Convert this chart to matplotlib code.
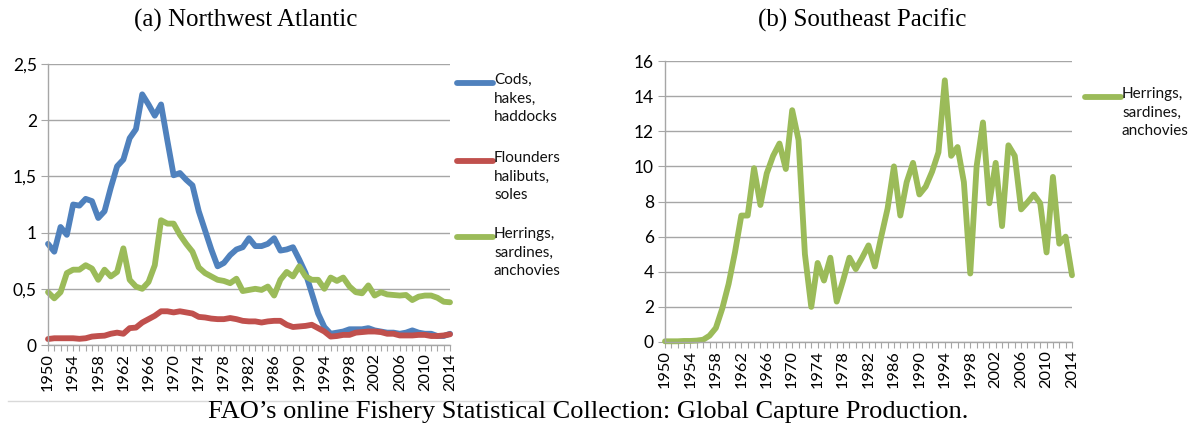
"""Capture production by species group: NW Atlantic vs SE Pacific (FAO)."""

import matplotlib
matplotlib.use("Agg")
import matplotlib.pyplot as plt
from matplotlib.lines import Line2D
from matplotlib.ticker import FuncFormatter, MultipleLocator

# Data (million tonnes)
years = list(range(1950, 2015))

nwa_cods = [
    0.90, 0.83, 1.05, 0.98, 1.25, 1.24, 1.30, 1.28, 1.13, 1.19,
    1.40, 1.59, 1.65, 1.84, 1.92, 2.23, 2.14, 2.04, 2.14, 1.82,
    1.51, 1.53, 1.47, 1.42, 1.19, 1.02, 0.85, 0.70, 0.73, 0.80,
    0.85, 0.87, 0.95, 0.88, 0.88, 0.90, 0.95, 0.84, 0.85, 0.87,
    0.76, 0.64, 0.46, 0.28, 0.16, 0.10, 0.11, 0.12, 0.14, 0.14,
    0.14, 0.15, 0.13, 0.12, 0.11, 0.11, 0.10, 0.11, 0.13, 0.11,
    0.10, 0.10, 0.08, 0.08, 0.10,
]
nwa_flounders = [
    0.053, 0.06, 0.06, 0.06, 0.06, 0.055, 0.06, 0.075, 0.08, 0.083,
    0.10, 0.11, 0.10, 0.15, 0.155, 0.20, 0.23, 0.26, 0.30, 0.30,
    0.29, 0.30, 0.29, 0.28, 0.25, 0.245, 0.235, 0.23, 0.23, 0.24,
    0.23, 0.215, 0.21, 0.21, 0.20, 0.21, 0.215, 0.215, 0.18, 0.16,
    0.165, 0.17, 0.18, 0.15, 0.12, 0.075, 0.08, 0.09, 0.09, 0.11,
    0.115, 0.12, 0.12, 0.115, 0.10, 0.10, 0.085, 0.085, 0.085, 0.09,
    0.09, 0.08, 0.08, 0.085, 0.095,
]
nwa_herrings = [
    0.47, 0.415, 0.47, 0.64, 0.67, 0.67, 0.71, 0.68, 0.58, 0.67,
    0.61, 0.65, 0.86, 0.58, 0.52, 0.50, 0.56, 0.71, 1.11, 1.08,
    1.08, 0.98, 0.90, 0.83, 0.69, 0.64, 0.61, 0.58, 0.57, 0.55,
    0.59, 0.48, 0.49, 0.50, 0.49, 0.52, 0.44, 0.58, 0.65, 0.61,
    0.70, 0.61, 0.58, 0.58, 0.50, 0.60, 0.57, 0.60, 0.52, 0.47,
    0.46, 0.53, 0.44, 0.47, 0.45, 0.445, 0.44, 0.445, 0.40, 0.43,
    0.44, 0.44, 0.42, 0.385, 0.38,
]
sep_herrings = [
    0.04, 0.04, 0.04, 0.06, 0.06, 0.08, 0.13, 0.36, 0.8, 1.9,
    3.3, 5.1, 7.2, 7.2, 9.9, 7.8, 9.6, 10.6, 11.3, 9.85,
    13.2, 11.5, 5.0, 2.0, 4.5, 3.5, 4.8, 2.3, 3.5, 4.8,
    4.15, 4.8, 5.5, 4.3, 6.0, 7.6, 10.0, 7.2, 9.1, 10.2,
    8.4, 8.85, 9.7, 10.8, 14.9, 10.6, 11.1, 9.1, 3.9, 10.0,
    12.5, 7.9, 10.2, 6.6, 11.2, 10.6, 7.55, 7.95, 8.4, 7.9,
    5.1, 9.4, 5.6, 6.0, 3.8,
]

nwa_labels = ["Cods,\nhakes,\nhaddocks", "Flounders\nhalibuts,\nsoles",
              "Herrings,\nsardines,\nanchovies"]
sep_labels = ["Herrings,\nsardines,\nanchovies"]

BLUE, RED, GREEN = "#4F81BD", "#C0504D", "#9BBB59"
GRID = "#A6A6A6"
W, H = 1195, 428
LW = 4.2

plt.rcParams["font.family"] = ["Lato", "DejaVu Sans"]

fig = plt.figure(figsize=(W / 100, H / 100), dpi=100)


def px_axes(left, top, right, bottom):
    return fig.add_axes([left / W, 1 - bottom / H, (right - left) / W, (bottom - top) / H])


def style_axis(ax, ymax, ystep, comma):
    ax.set_xlim(1950, 2014)
    ax.set_ylim(0, ymax)
    ax.yaxis.set_major_locator(MultipleLocator(ystep))
    if comma:
        ax.yaxis.set_major_formatter(
            FuncFormatter(lambda v, p: f"{v:g}".replace(".", ",")))
    ax.set_xticks(years[::4])
    ax.set_xticks(years, minor=True)
    ax.tick_params(axis="x", rotation=90, labelsize=11.8, length=4, width=0.8,
                   color=GRID, pad=2)
    ax.tick_params(axis="x", which="minor", length=4, width=0.8, color=GRID)
    ax.tick_params(axis="y", labelsize=12.5, length=5, width=0.8, color=GRID, pad=3)
    ax.grid(axis="y", color=GRID, linewidth=1)
    ax.set_axisbelow(True)
    for side in ("top", "right"):
        ax.spines[side].set_visible(False)
    for side in ("left", "bottom"):
        ax.spines[side].set_color(GRID)
        ax.spines[side].set_linewidth(1)


def legend_entry(x0, y, color, label):
    fig.add_artist(Line2D([x0 / W, (x0 + 36) / W], [1 - y / H, 1 - y / H],
                          color=color, lw=LW, solid_capstyle="round"))
    fig.text((x0 + 37) / W, 1 - (y - 10) / H, label, fontsize=11,
             va="top", ha="left", linespacing=1.4, color="#111111")


# (a) Northwest Atlantic
ax1 = px_axes(48, 64, 450, 345)
style_axis(ax1, 2.5, 0.5, True)
for vals, col in zip([nwa_cods, nwa_flounders, nwa_herrings], [BLUE, RED, GREEN]):
    ax1.plot(years, vals, color=col, lw=LW, solid_joinstyle="round",
             solid_capstyle="round", clip_on=False)
for (y, col, lab) in zip([83, 161, 237], [BLUE, RED, GREEN], nwa_labels):
    legend_entry(457, y, col, lab)

# (b) Southeast Pacific
ax2 = px_axes(665, 61, 1072, 342)
style_axis(ax2, 16, 2, False)
ax2.plot(years, sep_herrings, color=GREEN, lw=LW, solid_joinstyle="round",
         solid_capstyle="round", clip_on=False)
legend_entry(1085, 97, GREEN, sep_labels[0])

# titles + caption
serif = ["Liberation Serif", "DejaVu Serif"]
fig.text(246 / W, 1 - 20 / H, "(a) Northwest Atlantic", family=serif,
         fontsize=18, ha="center", va="center")
fig.text(862 / W, 1 - 20 / H, "(b) Southeast Pacific", family=serif,
         fontsize=18, ha="center", va="center")
fig.text(588 / W, 1 - 412 / H, "FAO\u2019s online Fishery Statistical Collection: Global Capture Production.",
         family=serif, fontsize=19, ha="center", va="center")
fig.add_artist(Line2D([8 / W, 565 / W], [1 - 401 / H, 1 - 401 / H],
                      color="#D9D9D9", lw=1))

fig.savefig("out.png", dpi=100)
